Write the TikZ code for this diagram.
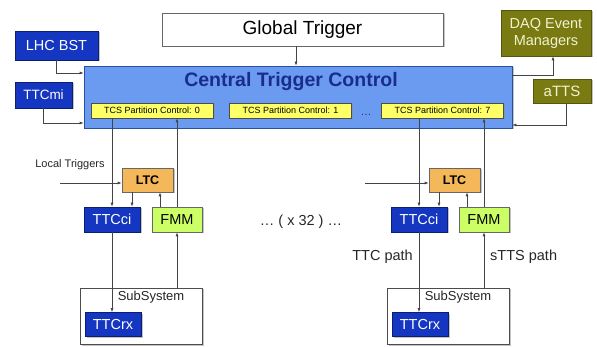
\documentclass[tikz,border=0pt]{standalone}
\usepackage{fontspec}
\setmainfont{Liberation Sans}
\usetikzlibrary{shadows,arrows.meta}
\definecolor{dblue}{HTML}{1536C0}
\definecolor{dblueb}{HTML}{0A1F70}
\definecolor{ctcfill}{HTML}{6A9BF0}
\definecolor{ctcborder}{HTML}{2A4FA0}
\definecolor{ctctext}{HTML}{1A2C8C}
\definecolor{yel}{HTML}{FFFF66}
\definecolor{ltcfill}{HTML}{F4B75A}
\definecolor{fmmfill}{HTML}{CCFF66}
\definecolor{olive}{HTML}{7A7A12}
\definecolor{olivetext}{HTML}{F2F2D0}
\definecolor{linec}{HTML}{444444}
\tikzset{
  boxbase/.style={draw, inner sep=0pt, align=center, line width=0.6pt,
    drop shadow={shadow xshift=1.5pt, shadow yshift=-1.5pt, fill=black!45}},
  bluebox/.style={boxbase, fill=dblue, draw=dblueb, text=white, font=\fontsize{14.5}{16}\selectfont},
  olivebox/.style={boxbase, fill=olive, draw=olive!70!black, text=olivetext, font=\fontsize{14.5}{17}\selectfont},
  tcsbox/.style={boxbase, fill=yel, draw=black!70, font=\fontsize{9}{10}\selectfont, minimum width=122pt, minimum height=15pt},
  ltcbox/.style={boxbase, fill=ltcfill, draw=black!60, font=\bfseries\fontsize{12.5}{14}\selectfont, minimum width=51pt, minimum height=24pt},
  fmmbox/.style={boxbase, fill=fmmfill, draw=black!60, font=\fontsize{14.5}{16}\selectfont, minimum width=50pt, minimum height=25pt},
  ttccibox/.style={bluebox, font=\fontsize{14.5}{16}\selectfont, minimum width=56pt, minimum height=25pt},
  ttcrxbox/.style={bluebox, font=\fontsize{14.5}{16}\selectfont, minimum width=56pt, minimum height=24pt},
  subbox/.style={boxbase, fill=white, draw=black!70, minimum width=122pt, minimum height=56pt},
  conn/.style={draw=linec, line width=0.6pt, -{Latex[length=4pt,width=3pt]}},
  lbl/.style={inner sep=0pt, text=black!85}
}
\begin{document}
\begin{tikzpicture}[x=1pt,y=-1pt]
\useasboundingbox (0,0) rectangle (597,347);
% top row
\node[boxbase, fill=white, draw=black!60, minimum width=281pt, minimum height=33pt, font=\fontsize{19}{22}\selectfont] (gt) at (302.5,29.5) {Global Trigger};
\node[bluebox, minimum width=83pt, minimum height=29pt] (lhc) at (56.5,45.5) {LHC BST};
\node[bluebox, minimum width=57pt, minimum height=26pt, font=\fontsize{13.5}{16}\selectfont] (ttcmi) at (43.5,95) {TTCmi};
\node[olivebox, minimum width=90pt, minimum height=46pt] (daq) at (546,33) {DAQ Event\\Managers};
\node[olivebox, minimum width=58pt, minimum height=24pt, font=\fontsize{15}{17}\selectfont] (atts) at (562,91) {aTTS};
% central trigger control
\node[boxbase, fill=ctcfill, draw=ctcborder, minimum width=428pt, minimum height=62pt] (ctc) at (298,97) {};
\node[lbl, text=ctctext, font=\bfseries\fontsize{19.5}{22}\selectfont] (ctctitle) at (291,82) {Central Trigger Control};
\node[tcsbox] (tcs0) at (152,110.5) {TCS Partition Control: 0};
\node[tcsbox] (tcs1) at (290.5,110.5) {TCS Partition Control: 1};
\node[tcsbox] (tcs7) at (442.5,110.5) {TCS Partition Control: 7};
\node[lbl, font=\fontsize{11}{12}\selectfont, text=ctctext] (cdots) at (366,115) {\dots};
% top connectors
\draw[conn] (lhc.south) |- ([yshift=24pt]ctc.west);
\draw[conn] (ttcmi.south) |- ([yshift=-26pt]ctc.west);
\draw[conn] ([xshift=-6.5pt]gt.south) -- ([xshift=-6.5pt]gt.south |- ctc.north);
\draw[conn] ([yshift=22pt]ctc.east) -| ([xshift=7pt]daq.south);
\draw[conn] ([xshift=4pt]atts.south) |- ([yshift=-28pt]ctc.east);
% left column
\node[ltcbox] (ltcA) at (147.5,180) {LTC};
\node[ttccibox] (ttcciA) at (112,219.5) {TTCci};
\node[fmmbox] (fmmA) at (177,219.5) {FMM};
\node[subbox] (subA) at (141,316) {};
\node[lbl, font=\fontsize{13}{15}\selectfont] (subAl) at (151,297) {SubSystem};
\node[ttcrxbox] (ttcrxA) at (113,324.5) {TTCrx};
\node[lbl, font=\fontsize{11}{13}\selectfont] (ltA) at (70,165) {Local Triggers};
\coordinate (ltinA) at (60,183);
\draw[conn] (ltinA) -- (ltinA -| ltcA.west);
\draw[conn] (tcs0.south -| ttcciA.north) -- (ttcciA.north);
\draw[conn] (fmmA.north) -- (fmmA.north |- tcs0.south);
\draw[conn] ([xshift=-15.5pt]ltcA.south) -- ([xshift=-15.5pt]ltcA.south |- ttcciA.north);
\draw[conn] ([xshift=-17pt]fmmA.north) -- ([xshift=-17pt]fmmA.north |- ltcA.south);
\draw[conn] (ttcciA.south) -- (ttcciA.south |- ttcrxA.north);
\draw[conn] (subA.north -| fmmA.south) -- (fmmA.south);
% middle label
\node[lbl, font=\fontsize{14.5}{16}\selectfont] (x32) at (301,222) {\dots\ ( x 32 ) \dots};
% right column
\node[ltcbox] (ltcB) at (454.5,180) {LTC};
\node[ttccibox] (ttcciB) at (419,219.5) {TTCci};
\node[fmmbox] (fmmB) at (484,219.5) {FMM};
\node[subbox] (subB) at (448,316) {};
\node[lbl, font=\fontsize{13}{15}\selectfont] (subBl) at (458,297) {SubSystem};
\node[ttcrxbox] (ttcrxB) at (420,324.5) {TTCrx};
\coordinate (ltinB) at (365,183);
\draw[conn] (ltinB) -- (ltinB -| ltcB.west);
\draw[conn] (tcs7.south -| ttcciB.north) -- (ttcciB.north);
\draw[conn] (fmmB.north) -- (fmmB.north |- tcs7.south);
\draw[conn] ([xshift=-15.5pt]ltcB.south) -- ([xshift=-15.5pt]ltcB.south |- ttcciB.north);
\draw[conn] ([xshift=-17pt]fmmB.north) -- ([xshift=-17pt]fmmB.north |- ltcB.south);
\draw[conn] (ttcciB.south) -- (ttcciB.south |- ttcrxB.north);
\draw[conn] (subB.north -| fmmB.south) -- (fmmB.south);
\node[lbl, anchor=east, font=\fontsize{14.5}{16}\selectfont] (ttcp) at (413,257) {TTC path};
\node[lbl, anchor=west, font=\fontsize{14.5}{16}\selectfont] (sttsp) at (490,257) {sTTS path};
\end{tikzpicture}
\end{document}
